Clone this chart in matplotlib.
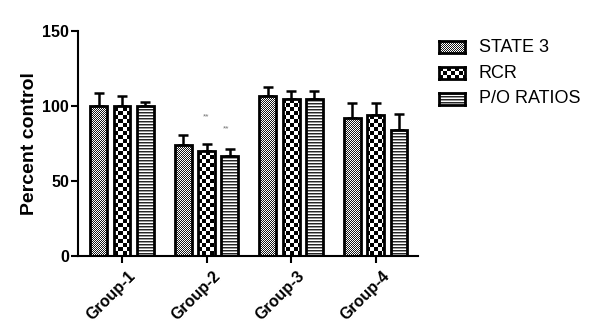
import numpy as np
import matplotlib
matplotlib.use("Agg")
import matplotlib.pyplot as plt
import matplotlib.transforms as mtransforms

plt.rcParams['font.family'] = ['Liberation Sans', 'DejaVu Sans']

# data
groups = ["Group-1", "Group-2", "Group-3", "Group-4"]
series = ["STATE 3", "RCR", "P/O RATIOS"]
state3 = [100, 74, 107, 92]
rcr = [100, 70, 105, 94]
po = [100, 67, 105, 84]
state3_err = [9, 7, 6, 10]
rcr_err = [7, 4.5, 5, 8]
po_err = [3, 4.5, 5, 10.5]
values = [state3, rcr, po]
errors = [state3_err, rcr_err, po_err]


def pattern(kind, h, w):
    i, j = np.mgrid[0:h, 0:w]
    if kind == 0:
        # fine checker
        return np.where((i + j) % 2 == 0, 0.1, 1.0)
    if kind == 1:
        # coarse checker
        return np.where(((i // 4) + (j // 4)) % 2 == 0, 0.0, 1.0)
    # horizontal stripes
    p = np.ones((h, w))
    p[i % 3 == 0] = 0.15
    p[i % 3 == 1] = 0.6
    return p


W, H = 597, 328
fig = plt.figure(figsize=(W / 100, H / 100), dpi=100)
ax_w, ax_h = 340, 225
ax = fig.add_axes([78 / W, 72 / H, ax_w / W, ax_h / H])

x = np.arange(len(groups))
width = 0.2
offset = 0.275

for k in range(3):
    pos = x + (k - 1) * offset
    bars = ax.bar(pos, values[k], width, facecolor='none', edgecolor='black',
                  linewidth=2.0, zorder=3)
    ax.errorbar(pos, values[k], yerr=[np.zeros(4), errors[k]], fmt='none',
                ecolor='black', elinewidth=1.8, capsize=3.6, capthick=1.8, zorder=2)
    pat = pattern(k, ax_h, ax_w)
    for b in bars:
        im = ax.imshow(pat, cmap='gray', vmin=0, vmax=1, extent=(0, 1, 0, 1),
                       transform=ax.transAxes, aspect='auto',
                       interpolation='nearest', zorder=2.5)
        im.set_clip_path(b)

# significance marks
ax.text(1.0, 93, "**", color='0.45', fontsize=6, ha='center', va='center')
ax.text(1.23, 84.5, "**", color='0.45', fontsize=6, ha='center', va='center')

ax.set_xlim(-0.52, 3.5)
ax.set_ylim(0, 150)
ax.spines['top'].set_visible(False)
ax.spines['right'].set_visible(False)
ax.spines['left'].set_linewidth(1.5)
ax.spines['bottom'].set_linewidth(1.5)
ax.tick_params(width=1.5, length=5, direction='out', pad=1.5)
ax.set_yticks([0, 50, 100, 150])
ax.set_xticks(x)
ax.set_xticklabels(groups, rotation=45, ha='right', va='top',
                   rotation_mode='anchor', fontweight='bold', fontsize=11.5)
shift = mtransforms.ScaledTranslation(6 / 100, -3 / 100, fig.dpi_scale_trans)
for t in ax.get_xticklabels():
    t.set_transform(t.get_transform() + shift)
for t in ax.get_yticklabels():
    t.set_fontweight('bold')
    t.set_fontsize(11.5)
ax.set_ylabel("Percent control", fontweight='bold', fontsize=14, labelpad=3)

# legend drawn by hand with patterned swatches
for k, name in enumerate(series):
    yc = 47 + 26 * k
    sw = fig.add_axes([439 / W, 1 - (yc + 6) / H, 26 / W, 12 / H])
    sw.imshow(pattern(k, 12, 26), cmap='gray', vmin=0, vmax=1,
              interpolation='nearest', aspect='auto')
    sw.set_xticks([])
    sw.set_yticks([])
    for s in sw.spines.values():
        s.set_linewidth(2.0)
    fig.text(479 / W, 1 - yc / H, name, fontsize=13, va='center', ha='left')

fig.savefig("out.png", dpi=100)
